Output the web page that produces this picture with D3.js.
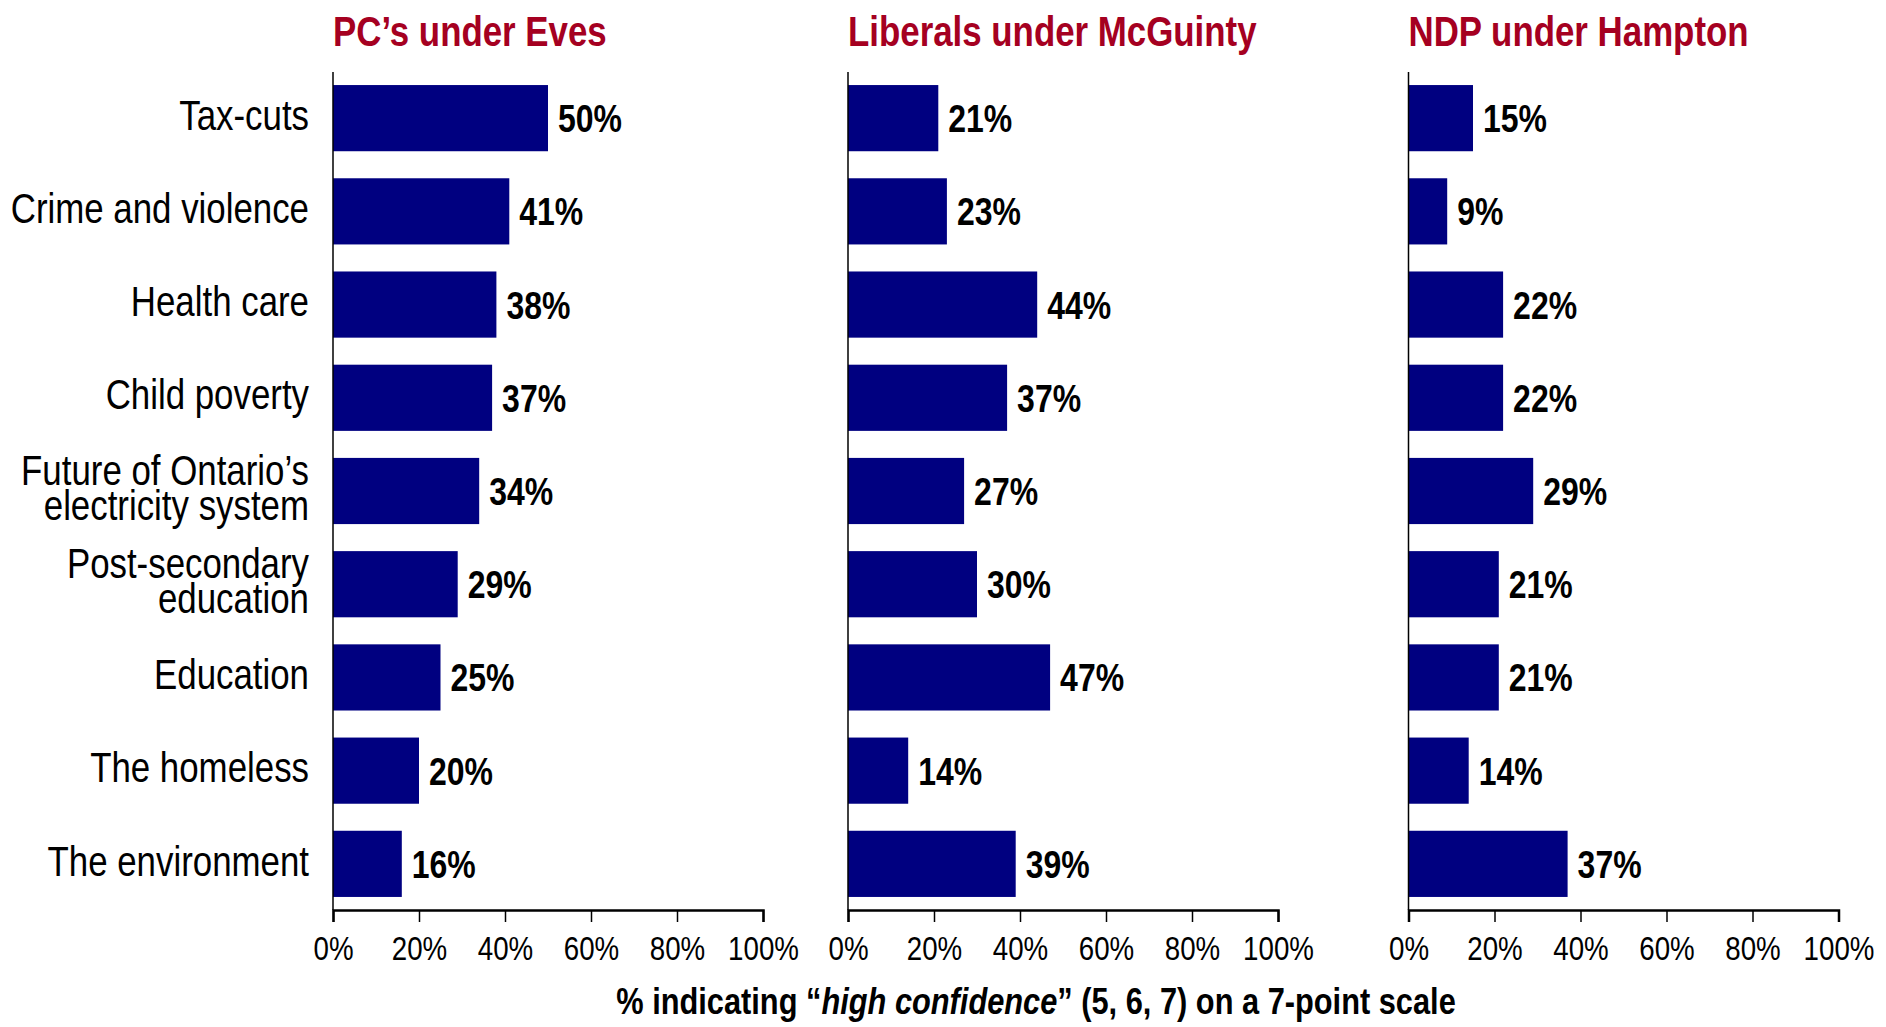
<!DOCTYPE html>
<html>
<head>
<meta charset="utf-8">
<script src="https://cdn.jsdelivr.net/npm/d3@7"></script>
<style>
  body { margin: 0; background: #fff; }
  svg text { font-family: "Liberation Sans", Arial, sans-serif; }
</style>
</head>
<body>
<svg id="chart" width="1886" height="1027"></svg>
<script>
// Issues (rows) and the three party panels
const categories = [
  ["Tax-cuts"],
  ["Crime and violence"],
  ["Health care"],
  ["Child poverty"],
  ["Future of Ontario\u2019s", "electricity system"],
  ["Post-secondary", "education"],
  ["Education"],
  ["The homeless"],
  ["The environment"]
];
const panelTitles = ["PC\u2019s under Eves", "Liberals under McGuinty", "NDP under Hampton"];
const pcValues = [50, 41, 38, 37, 34, 29, 25, 20, 16];
const libValues = [21, 23, 44, 37, 27, 30, 47, 14, 39];
const ndpValues = [15, 9, 22, 22, 29, 21, 21, 14, 37];
const tickValues = [0, 20, 40, 60, 80, 100];
const axisTitle = ["% indicating \u201c", "high confidence", "\u201d (5, 6, 7) on a 7-point scale"];

const series = [pcValues, libValues, ndpValues];

// layout
const panelX = [333, 848, 1408.5];
const panelW = 430;
const yTop = 72, yBottom = 910;
const narrow = 0.83; // no Arial Narrow installed, squeeze Liberation Sans instead

const svg = d3.select('#chart');

const y = d3.scaleBand()
  .domain(d3.range(categories.length))
  .range([yTop, yBottom])
  .paddingInner(0.29)
  .paddingOuter(0.14);

// category labels
const catG = svg.append('g');
categories.forEach((lines, i) => {
  const cy = y(i) + y.bandwidth() / 2 - 3;
  const lh = 35;
  const t = catG.append('text')
    .attr('transform', `translate(309,${cy - (lines.length - 1) * lh / 2}) scale(${narrow},1)`)
    .attr('text-anchor', 'end')
    .style('font-size', '42px')
    .style('fill', '#000');
  lines.forEach((ln, j) => {
    t.append('tspan').attr('x', 0).attr('dy', j === 0 ? '0.35em' : lh + 'px').text(ln);
  });
});

series.forEach((vals, p) => {
  const x = d3.scaleLinear().domain([0, 100]).range([panelX[p], panelX[p] + panelW]);
  const g = svg.append('g');

  // title
  g.append('text')
    .attr('transform', `translate(${panelX[p]},46) scale(${narrow},1)`)
    .style('font-size', '42px')
    .style('font-weight', 'bold')
    .style('fill', '#A50021')
    .text(panelTitles[p]);

  // bars
  g.selectAll('rect')
    .data(vals)
    .join('rect')
    .attr('x', x(0))
    .attr('y', (d, i) => y(i))
    .attr('width', d => x(d) - x(0))
    .attr('height', y.bandwidth())
    .attr('fill', '#000080');

  // value labels
  g.selectAll('text.val')
    .data(vals)
    .join('text')
    .attr('class', 'val')
    .attr('transform', (d, i) => `translate(${x(d) + 10},${y(i) + y.bandwidth() / 2}) scale(0.82,1)`)
    .attr('dy', '0.36em')
    .style('font-size', '39px')
    .style('font-weight', 'bold')
    .style('fill', '#000')
    .text(d => d + '%');

  // y axis line
  g.append('line')
    .attr('x1', x(0)).attr('x2', x(0))
    .attr('y1', yTop).attr('y2', yBottom)
    .attr('stroke', '#000').attr('stroke-width', 1.5);

  // x axis
  const ax = g.append('g')
    .attr('transform', `translate(0,${yBottom})`)
    .call(d3.axisBottom(x).tickValues(tickValues).tickSize(12).tickSizeOuter(12).tickPadding(15).tickFormat(d => d + '%'));
  ax.select('.domain').attr('stroke', '#000').attr('stroke-width', 2.5);
  ax.selectAll('.tick line').attr('stroke', '#000').attr('stroke-width', 1.5);
  ax.selectAll('.tick text')
    .attr('transform', 'scale(0.84,1)')
    .style('font-size', '33px')
    .style('font-family', '"Liberation Sans", Arial, sans-serif')
    .style('fill', '#000');
});

// axis title
const at = svg.append('text')
  .attr('transform', 'translate(1036,1001) scale(0.855,1)')
  .attr('dy', '0.35em')
  .attr('text-anchor', 'middle')
  .style('font-size', '36px')
  .style('font-weight', 'bold')
  .style('fill', '#000');
at.append('tspan').text(axisTitle[0]);
at.append('tspan').style('font-style', 'italic').text(axisTitle[1]);
at.append('tspan').text(axisTitle[2]);
</script>
</body>
</html>
